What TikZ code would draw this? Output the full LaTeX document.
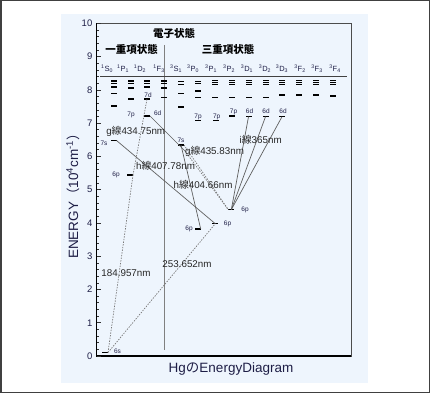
\documentclass[tikz,border=0pt]{standalone}
\usepackage{fontspec}
\setmainfont{Liberation Sans}
\newfontfamily\jp{Noto Sans CJK JP}
\definecolor{panel}{RGB}{238,245,253}
\definecolor{ink}{RGB}{30,30,70}
\definecolor{tline}{RGB}{95,95,95}
\newcommand\trm[3]{\textsuperscript{#1}#2\textsubscript{#3}}
\begin{document}
\begin{tikzpicture}[x=1pt,y=-1pt,
  bar/.style={fill=black,draw=none,minimum width=6pt,minimum height=1.3pt,inner sep=0pt,outer sep=0pt},
  ubar/.style={bar,minimum height=1.6pt},
  lbl/.style={font=\fontsize{6.5}{7}\selectfont,text=ink,inner sep=0pt},
  col/.style={font=\fontsize{7.5}{8}\selectfont,text=ink,inner sep=0pt},
  tag/.style={font=\fontsize{9.8}{11}\selectfont,text=black!85,inner sep=0pt},
  trn/.style={draw=tline,line width=0.7pt},
  trd/.style={draw=tline!85,line width=0.7pt,dash pattern=on 1.4pt off 1.3pt},
  tick/.style={draw=black!80,line width=0.6pt}]
\useasboundingbox (0,0) rectangle (430,393);
\fill[white] (0,0) rectangle (430,393);
\draw[black!75,line width=1.5pt] (0.75,0.75) rectangle (429.25,392.25);
\fill[panel] (61,14) rectangle (368,383);
% frame
\draw[black!70,line width=0.8pt] (96.7,23.3) rectangle (351.3,356);
\draw[black,line width=1.2pt] (96.7,23.3) -- (96.7,356) -- (351.3,356);
% ticks
\foreach \v in {0,...,10}{
  \draw[tick] (96.7,356-33.27*\v) -- ++(4,0);
  \node[font=\fontsize{9.5}{10}\selectfont,text=ink,anchor=east,inner sep=0pt] (y\v) at (92.5,356-33.27*\v) {\v};
}
\foreach \v in {0,...,9}{
  \foreach \m in {1,2,3,4}{
    \draw[tick] (96.7,356-33.27*\v-6.654*\m) -- ++(2.5,0);
  }
}
% headings
\node[font=\jp\bfseries\fontsize{10.5}{12}\selectfont,inner sep=0pt] (h0) at (174,34) {電子状態};
\node[font=\jp\bfseries\fontsize{10.5}{12}\selectfont,inner sep=0pt] (h1) at (131.5,49) {一重項状態};
\node[font=\jp\bfseries\fontsize{10.5}{12}\selectfont,inner sep=0pt] (h3) at (228,49) {三重項状態};
\draw[gray,line width=0.6pt] (164.3,45) -- (164.3,350);
% column labels
\foreach \x/\t [count=\c] in {107/\trm{1}{S}{0},123/\trm{1}{P}{1},140/\trm{1}{D}{2},159/\trm{1}{F}{3},
  176/\trm{3}{S}{1},193/\trm{3}{P}{0},211/\trm{3}{P}{1},229/\trm{3}{P}{2},247/\trm{3}{D}{1},
  265/\trm{3}{D}{2},282/\trm{3}{D}{3},300/\trm{3}{F}{2},317/\trm{3}{F}{3},335/\trm{3}{F}{4}}{
  \node[col] (c\c) at (\x,68.5) {\t};
}
\draw[black!75,line width=0.9pt] (100,76) -- (346.7,76);
% upper levels
\foreach \cx/\ys [count=\c] in {113.5/{81,83.5,87,93.5,106},131/{81,83.5,88,99},147/{81,83.5,87},
  164/{81,83.5,88,97.5},181/{81.5,84.5,93.5,107},198/{81.5,83.5,91,97.5},215/{80.5,82.5,84.5,97.5},
  232/{80.5,82.5,84.5,97.5},248.5/{80.5,82.5,84.5,97.5},265.5/{80.5,82.5,84.5,97.5},
  282/{80.5,82.5,84.5,95},299/{80.5,82.5,84.5,95},316/{80.5,82.5,84.5,95},332.5/{80.5,82.5,84.5,96}}{
  \foreach \yy [count=\k] in \ys {\node[ubar] (u\c-\k) at (\cx,\yy) {};}
}
% named levels
\node[bar] (s6) at (105,352.5) {};
\node[bar] (s7a) at (113.5,140.5) {};
\node[bar] (p6a) at (130,175) {};
\node[bar] (d7a) at (147,99) {};
\node[bar] (d6a) at (147,116) {};
\node[bar] (s7b) at (181,145) {};
\node[bar] (p6b) at (197.7,229) {};
\node[bar] (p6c) at (215.3,223.7) {};
\node[bar] (p6d) at (231.3,209.7) {};
\node[bar] (p7b) at (198,120.5) {};
\node[bar] (p7c) at (215.5,120.5) {};
\node[bar] (p7d) at (232,116) {};
\node[bar] (d6b) at (248.5,116.7) {};
\node[bar] (d6c) at (265.5,116.7) {};
\node[bar] (d6d) at (282,116.7) {};
% level labels
\node[lbl] (ls6) at (117.5,351) {6s};
\node[lbl] (ls7a) at (104,143) {7s};
\node[lbl] (lp6a) at (116,175) {6p};
\node[lbl] (lp7a) at (131,114.5) {7p};
\node[lbl] (ld7a) at (148,95) {7d};
\node[lbl] (ld6a) at (157.7,113.5) {6d};
\node[lbl] (ls7b) at (181,140) {7s};
\node[lbl] (lp6b) at (189,229) {6p};
\node[lbl] (lp6c) at (227.5,224) {6p};
\node[lbl] (lp6d) at (245,209.5) {6p};
\node[lbl] (lp7b) at (198,117) {7p};
\node[lbl] (lp7c) at (216.7,117) {7p};
\node[lbl] (lp7d) at (233.5,111.5) {7p};
\node[lbl] (ld6b) at (249.5,111.5) {6d};
\node[lbl] (ld6c) at (266,111.5) {6d};
\node[lbl] (ld6d) at (283,111.5) {6d};
% transitions
\coordinate (k) at (185,151);
\draw[trd] (s6.east) -- (p6a.east);
\draw[trd] (p6a.east) -- (d7a.center);
\draw[trd] (s6.east) -- (p6c.center);
\draw[trn] (s7a.east) -- (p6c.center);
\draw[trn] (d6a.east) -- (k);
\draw[trd] (k) -- (p6d.west);
\draw[trd] (s7b.east) -- (p6d.west);
\draw[trn] (s7b.center) -- (p6b.east);
\draw[trn] (d6b.center) -- (p6d.center);
\draw[trn] (d6c.center) -- (p6d.center);
\draw[trn] (d6d.center) -- (p6d.center);
% transition labels
\node[tag] (g1) at (135.7,131.7) {g{\jp 線}434.75nm};
\node[tag] (h1) at (165.5,165.7) {h{\jp 線}407.78nm};
\node[tag] (g2) at (214.5,151.7) {g{\jp 線}435.83nm};
\node[tag] (h2) at (203,184.3) {h{\jp 線}404.66nm};
\node[tag] (i1) at (260.7,139.3) {i{\jp 線}365nm};
\node[tag] (w1) at (126,273.3) {184.957nm};
\node[tag] (w2) at (187,264.3) {253.652nm};
% axis titles
\node[font=\fontsize{13.5}{15}\selectfont,text=ink,rotate=90,inner sep=0pt] (ya) at (73,193)
  {ENERGY{\jp （}10\textsuperscript{4}cm\textsuperscript{-1}{\jp ）}};
\node[font=\fontsize{13.5}{15}\selectfont,text=ink,inner sep=0pt] (xt) at (231,369) {Hg{\jp の}EnergyDiagram};
\end{tikzpicture}
\end{document}
